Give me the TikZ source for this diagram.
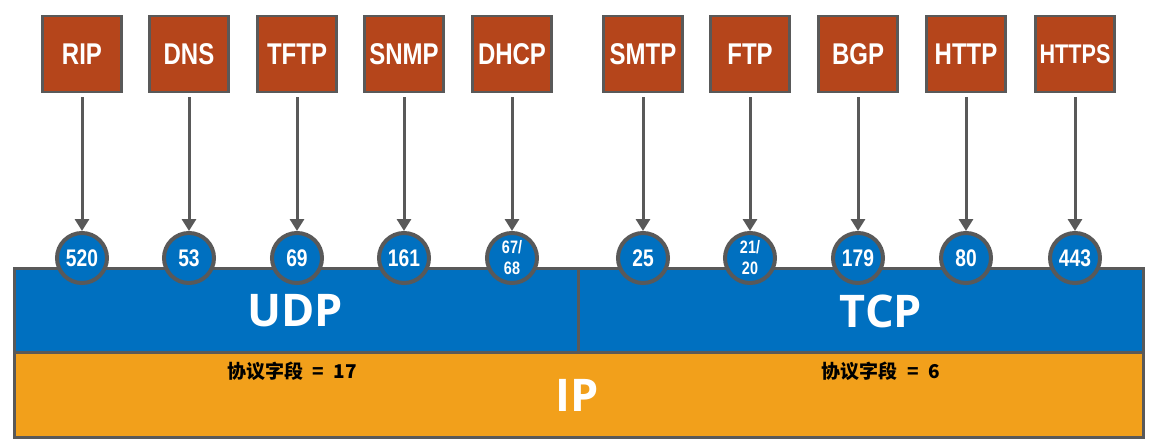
\documentclass[tikz,border=0pt]{standalone}
\usepackage{fontspec}
\setmainfont{Liberation Sans}
\newfontfamily\narrowfont[FakeStretch=0.8]{Liberation Sans}
\newfontfamily\layerfont{Open Sans}
\newfontfamily\cjkfont{Noto Sans CJK SC}
\usetikzlibrary{arrows.meta}
\definecolor{protored}{HTML}{B5451B}
\definecolor{portblue}{HTML}{0070C0}
\definecolor{ipyellow}{HTML}{F2A01B}
\definecolor{linegray}{HTML}{595959}
\begin{document}
\begin{tikzpicture}[x=1pt, y=-1pt, proto/.style={rectangle, draw=linegray, line width=2.5pt, fill=protored, minimum width=79pt, minimum height=76pt, inner sep=0pt, text=white, font=\narrowfont\bfseries\fontsize{30}{36}\selectfont}, port/.style={circle, draw=linegray, line width=4pt, fill=portblue, minimum size=50pt, inner sep=0pt, text=white, align=center, font=\narrowfont\bfseries\fontsize{24}{26}\selectfont}, twoline/.style={font=\narrowfont\bfseries\fontsize{18}{21}\selectfont}, band/.style={rectangle, draw=linegray, line width=3pt, inner sep=0pt}, layer/.style={text=white, font=\layerfont\bfseries\fontsize{45}{50}\selectfont}, field/.style={font=\cjkfont\bfseries\fontsize{19}{22}\selectfont}, link/.style={draw=linegray, line width=3pt, shorten <=4pt, -{Triangle[length=12pt, width=14pt]}}]

		\useasboundingbox (0, 0) rectangle (1160, 445);

		% layers
		\node[band, fill=ipyellow, minimum width=1129pt, minimum height=85pt] (ip) at (578.5, 394.5) {};
		\node[band, fill=portblue, minimum width=564pt, minimum height=84pt] (udp) at (296, 310) {};
		\node[band, fill=portblue, minimum width=565pt, minimum height=84pt] (tcp) at (860.5, 310) {};

		\node[layer] (udptext) at (295, 311) {UDP};
		\node[layer] (tcptext) at (881, 311) {TCP};
		\node[layer] (iptext) at (577, 395) {IP};

		\node[field] (udpfield) at (292, 371) {协议字段\hspace{0.5em}=\hspace{0.5em}17};
		\node[field] (tcpfield) at (881, 371) {协议字段\hspace{0.5em}=\hspace{0.5em}6};

		% protocols
		\node[proto] (rip) at (82, 54) {RIP};
		\node[proto] (dns) at (189, 54) {DNS};
		\node[proto] (tftp) at (297, 54) {TFTP};
		\node[proto] (snmp) at (404, 54) {SNMP};
		\node[proto] (dhcp) at (512, 54) {DHCP};
		\node[proto] (smtp) at (643, 54) {SMTP};
		\node[proto] (ftp) at (750, 54) {FTP};
		\node[proto] (bgp) at (858, 54) {BGP};
		\node[proto] (http) at (966, 54) {HTTP};
		\node[proto, font=\narrowfont\bfseries\fontsize{27}{32}\selectfont] (https) at (1075, 54) {HTTPS};

		% ports
		\node[port] (p520) at (82, 258) {520};
		\node[port] (p53) at (189, 258) {53};
		\node[port] (p69) at (297, 258) {69};
		\node[port] (p161) at (404, 258) {161};
		\node[port, twoline] (p67) at (512, 258) {67/\\68};
		\node[port] (p25) at (643, 258) {25};
		\node[port, twoline] (p21) at (750, 258) {21/\\20};
		\node[port] (p179) at (858, 258) {179};
		\node[port] (p80) at (966, 258) {80};
		\node[port] (p443) at (1075, 258) {443};

		\draw[link] (rip) -- (p520);
		\draw[link] (dns) -- (p53);
		\draw[link] (tftp) -- (p69);
		\draw[link] (snmp) -- (p161);
		\draw[link] (dhcp) -- (p67);
		\draw[link] (smtp) -- (p25);
		\draw[link] (ftp) -- (p21);
		\draw[link] (bgp) -- (p179);
		\draw[link] (http) -- (p80);
		\draw[link] (https) -- (p443);

	\end{tikzpicture}
\end{document}
